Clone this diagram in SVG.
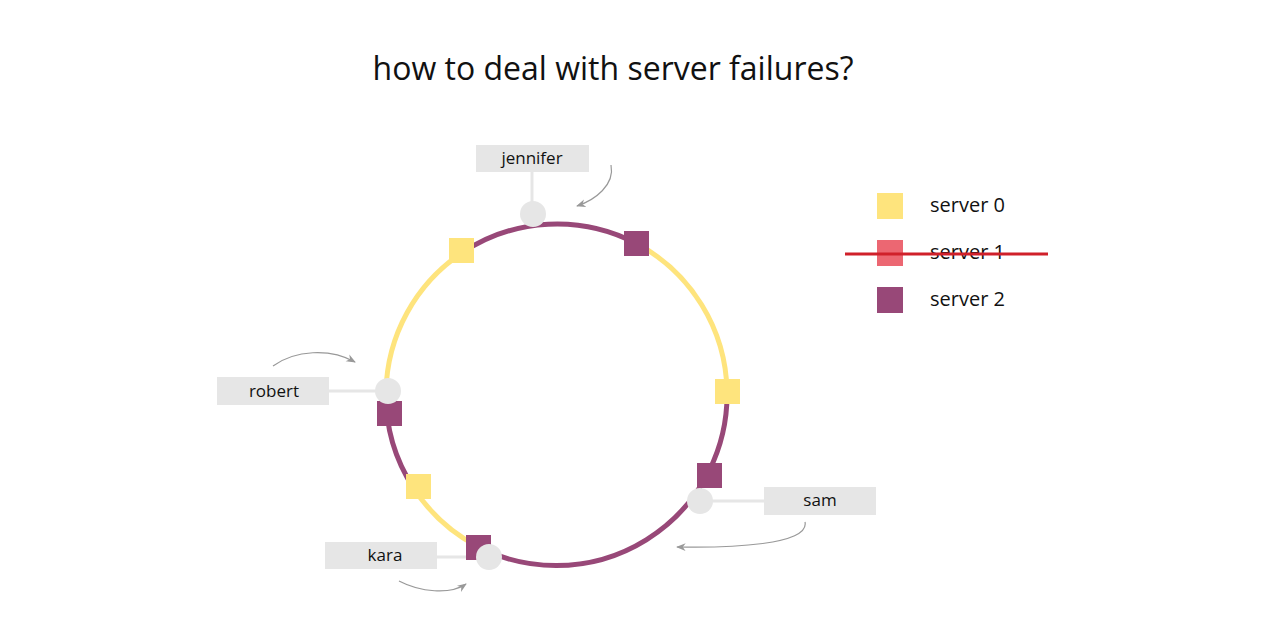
<svg xmlns="http://www.w3.org/2000/svg" width="1280" height="632" viewBox="0 0 1280 632">
<defs>
<style>
text{font-family:"Open Sans","Liberation Sans",sans-serif;fill:#111}
.lbl{font-size:17px;text-anchor:middle}
.box{fill:#e6e6e6}
.stem{stroke:#e6e6e6;stroke-width:3}
.dot{fill:#e6e6e6}
.y{fill:#fee47d}.p{fill:#984878}.r{fill:#ec6772}
.ay{fill:none;stroke:#fee47d;stroke-width:5}
.ap{fill:none;stroke:#984878;stroke-width:5}
.cur{fill:none;stroke:#999;stroke-width:1.2;marker-end:url(#ah)}
</style>
<marker id="ah" viewBox="0 0 10 10" refX="9" refY="5" markerWidth="8" markerHeight="8" orient="auto"><path d="M0,1 L10,5 L0,9 L3,5 Z" fill="#999"/></marker>
</defs>
<rect width="1280" height="632" fill="#fff"/>
<text x="613" y="80" font-size="32" text-anchor="middle">how to deal with server failures?</text>
<g id="connectors">
<path class="ap" d="M462.6,252.4 A171,171 0 0 1 636,243.3"/>
<path class="ay" d="M636,243.3 A171,171 0 0 1 727,391.1"/>
<path class="ap" d="M727,391.1 A171,171 0 0 1 477.2,546.3"/>
<path class="ay" d="M477.2,546.3 A171,171 0 0 1 413.9,488.6"/>
<path class="ap" d="M413.9,488.6 A171,171 0 0 1 386,392"/>
<path class="ay" d="M386,392 A171,171 0 0 1 462.6,252.4"/>
<line class="stem" x1="532" y1="172" x2="532" y2="205"/>
<line class="stem" x1="329" y1="391" x2="378" y2="391"/>
<line class="stem" x1="710" y1="501" x2="764" y2="501"/>
<line class="stem" x1="437" y1="557" x2="478" y2="557"/>
<path class="cur" d="M611,165 C615,185 595,200 577,206"/>
<path class="cur" d="M273,366 C295,350 330,348 355,362"/>
<path class="cur" d="M805,522 C810,545 730,548 677,547"/>
<path class="cur" d="M399,581 C420,592 450,595 466,584"/>
</g>
<g id="squares">
<rect class="y" x="449" y="238" width="25" height="25"/>
<rect class="p" x="624" y="231" width="25" height="25"/>
<rect class="y" x="715" y="379" width="25" height="25"/>
<rect class="p" x="697" y="463" width="25" height="25"/>
<rect class="p" x="377" y="401" width="25" height="25"/>
<rect class="y" x="406" y="474" width="25" height="25"/>
<rect class="p" x="466" y="535" width="25" height="25"/>
</g>
<g id="jennifer"><rect class="box" x="476" y="145" width="113" height="27"/><text class="lbl" x="532" y="164">jennifer</text><circle class="dot" cx="533" cy="214" r="13"/></g>
<g id="robert"><rect class="box" x="217" y="377" width="112" height="28"/><text class="lbl" x="274" y="397">robert</text><circle class="dot" cx="388" cy="391" r="13"/></g>
<g id="sam"><rect class="box" x="764" y="487" width="112" height="28"/><text class="lbl" x="820" y="506">sam</text><circle class="dot" cx="700" cy="501" r="13"/></g>
<g id="kara"><rect class="box" x="325" y="542" width="112" height="27"/><text class="lbl" x="385" y="561">kara</text><circle class="dot" cx="489" cy="557" r="13"/></g>
<g id="legend">
<rect class="y" x="877" y="193" width="26" height="26"/><text x="930" y="212" font-size="20">server 0</text>
<rect class="r" x="877" y="240" width="26" height="26"/><text x="930" y="259" font-size="20">server 1</text>
<line x1="845" y1="254" x2="1048" y2="254" stroke="#d0202a" stroke-width="3"/>
<rect class="p" x="877" y="287" width="26" height="26"/><text x="930" y="306" font-size="20">server 2</text>
</g>
</svg>
